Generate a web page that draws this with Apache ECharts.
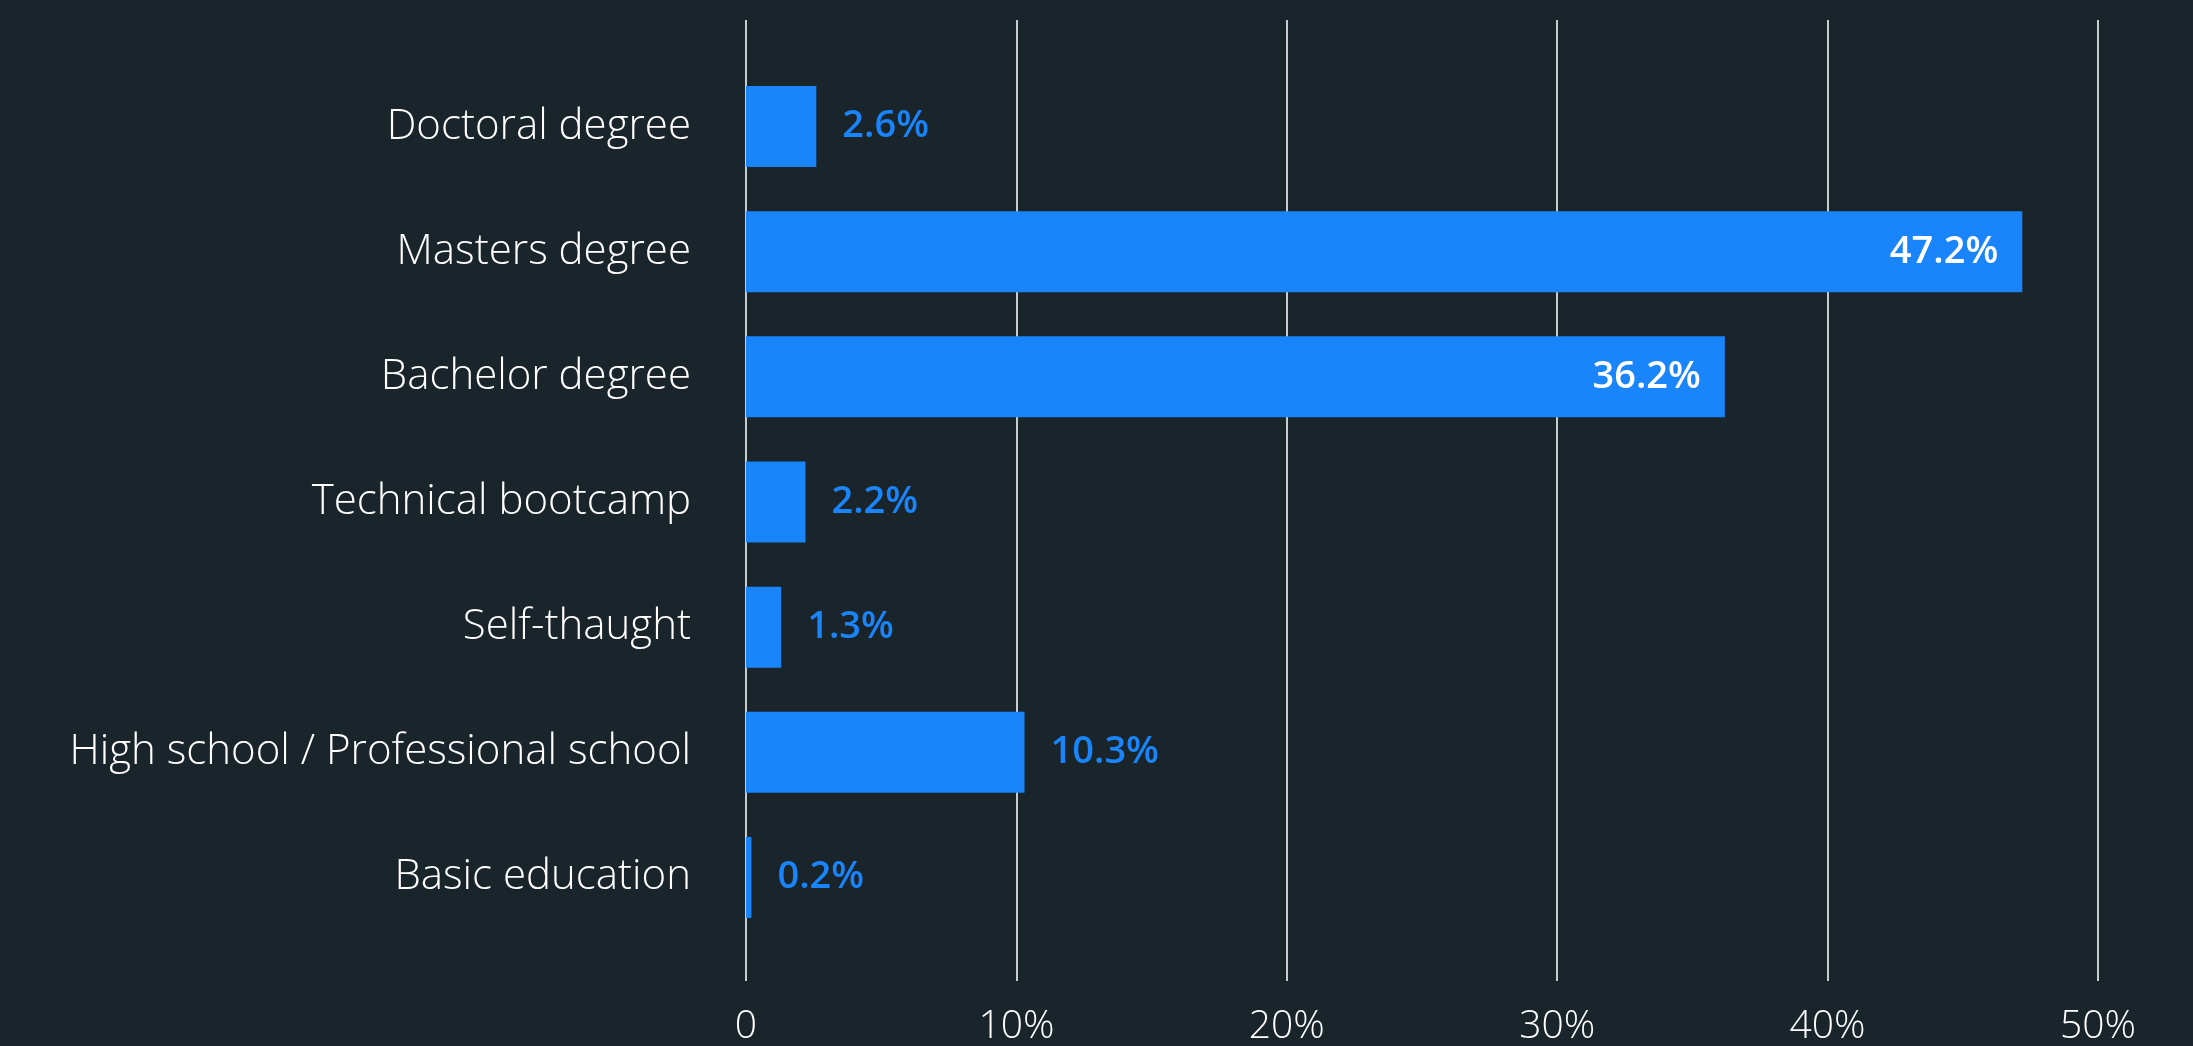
<!DOCTYPE html>
<html>
<head>
<meta charset="utf-8">
<title>Education level</title>
<script src="https://cdn.jsdelivr.net/npm/echarts@6/dist/echarts.min.js"></script>
<style>
  html, body { margin: 0; padding: 0; background: #19252b; }
  #chart { width: 2193px; height: 1046px; }
</style>
</head>
<body>
<div id="chart"></div>
<script>
// Education levels, top to bottom
const categories = [
  'Doctoral degree',
  'Masters degree',
  'Bachelor degree',
  'Technical bootcamp',
  'Self-thaught',
  'High school / Professional school',
  'Basic education'
];
// Share of respondents, percent
const shares = [2.6, 47.2, 36.2, 2.2, 1.3, 10.3, 0.2];
// Value axis ticks
const tickValues = [0, 10, 20, 30, 40, 50];

const FONT = '"Open Sans", Lato, "Noto Sans", sans-serif';
const BLUE = '#1a84fa';
const PLOT_LEFT = 746;
const PLOT_RIGHT = 95;

// Long bars carry their value inside, short ones beside the bar
const barData = shares.map(v => ({
  value: v,
  label: v > 30
    ? { position: 'insideRight', distance: 24, color: '#ffffff' }
    : { position: 'right', distance: 26, color: BLUE }
}));

const chart = echarts.init(document.getElementById('chart'), null, { renderer: 'canvas' });
chart.setOption({
  backgroundColor: '#19252b',
  animation: false,
  grid: [
    // grid lines and value ticks span the full height
    { left: PLOT_LEFT, right: PLOT_RIGHT, top: 20, bottom: 62 },
    // bars occupy the inner band
    { left: PLOT_LEFT, right: PLOT_RIGHT, top: 64, bottom: 106 }
  ],
  xAxis: [
    {
      gridIndex: 0,
      type: 'value',
      min: tickValues[0],
      max: tickValues[tickValues.length - 1],
      interval: tickValues[1] - tickValues[0],
      axisLine: { show: false },
      axisTick: { show: false },
      splitLine: { show: true, lineStyle: { color: '#c8ccce', width: 2 } },
      axisLabel: {
        color: '#ffffff',
        fontFamily: FONT,
        fontWeight: 300,
        fontSize: 39,
        margin: 26,
        formatter: v => (v === 0 ? '0' : v + '%')
      }
    },
    {
      gridIndex: 1,
      type: 'value',
      min: tickValues[0],
      max: tickValues[tickValues.length - 1],
      interval: tickValues[1] - tickValues[0],
      show: false
    }
  ],
  yAxis: [
    { gridIndex: 0, type: 'value', show: false },
    {
      gridIndex: 1,
      type: 'category',
      data: categories,
      inverse: true,
      axisLine: { show: false },
      axisTick: { show: false },
      splitLine: { show: false },
      axisLabel: {
        color: '#ffffff',
        fontFamily: FONT,
        fontWeight: 300,
        fontSize: 42,
        margin: 55
      }
    }
  ],
  series: [
    {
      type: 'bar',
      xAxisIndex: 1,
      yAxisIndex: 1,
      data: barData,
      barWidth: 81,
      itemStyle: { color: BLUE },
      label: {
        show: true,
        fontFamily: FONT,
        fontWeight: 600,
        fontSize: 38,
        formatter: p => p.value + '%'
      }
    }
  ]
});
</script>
</body>
</html>
